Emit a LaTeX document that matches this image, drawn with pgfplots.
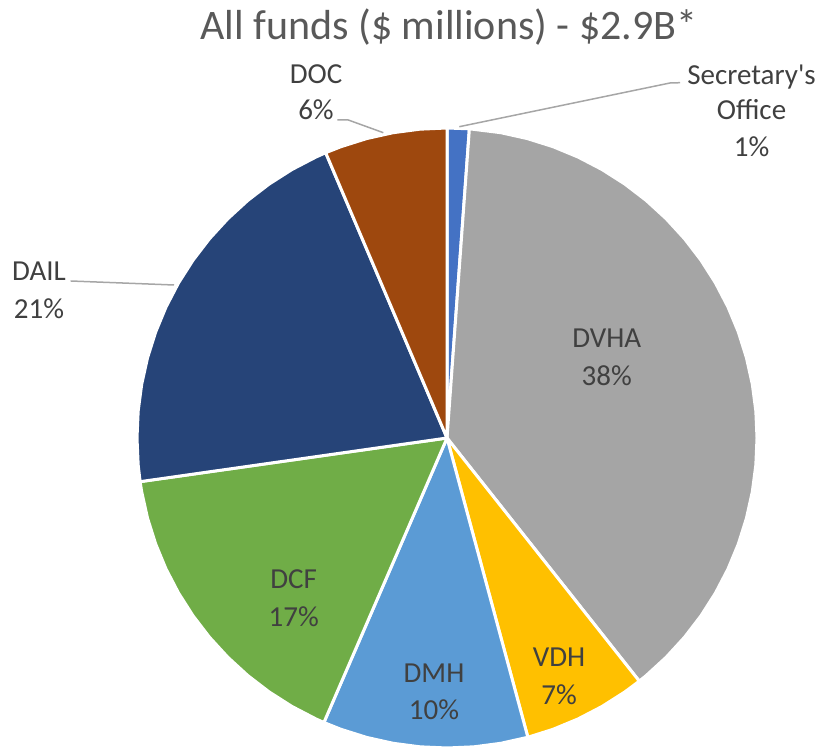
\documentclass[border=0pt]{standalone}
\usepackage{fontspec}
\setmainfont{Carlito}
\usepackage{pgfplots}
\pgfplotsset{compat=1.18}
\usepgfplotslibrary{polar}

\definecolor{cSO}{HTML}{4472C4}
\definecolor{cDVHA}{HTML}{A5A5A5}
\definecolor{cVDH}{HTML}{FFC000}
\definecolor{cDMH}{HTML}{5B9BD5}
\definecolor{cDCF}{HTML}{70AD47}
\definecolor{cDAIL}{HTML}{264478}
\definecolor{cDOC}{HTML}{9E480E}
\definecolor{lblgray}{HTML}{404040}
\definecolor{ttlgray}{HTML}{595959}
\definecolor{leadergray}{HTML}{A6A6A6}

\tikzset{
  lbl/.style={anchor=base, text=lblgray, inner sep=0pt, font=\fontsize{14.5}{17}\selectfont},
}

% shares (%), clockwise from 12 o'clock:
% SO 1.15, DVHA 38.2, VDH 6.45, DMH 10.7, DCF 16.25, DAIL 20.85, DOC 6.4
% wedges are given as (angle, radius) with the slice edges at
% 90, 85.86, -51.66, -74.88, -113.4, -171.9, -246.96, -270 degrees

\begin{document}
\begin{tikzpicture}
\useasboundingbox (0,0) rectangle (411.5pt,374.5pt);
\begin{axis}[
  at={(0,0)}, anchor=south west,
  width=411.5pt, height=374.5pt, scale only axis,
  hide axis, clip=false,
  xmin=-447, xmax=376, ymin=-311, ymax=438,
  slice/.style={draw=white, line width=1.5pt, line join=round, data cs=polar, mark=none},
  leader/.style={draw=leadergray, line width=0.75pt, mark=none},
]
% Secretary's Office
\addplot[slice, fill=cSO] coordinates {(0,0) (90,310) (85.86,310)} -- cycle;
% DVHA
\addplot[slice, fill=cDVHA] coordinates {(0,0) (85.86,310) (80,310) (75,310) (70,310) (65,310) (60,310) (55,310) (50,310) (45,310) (40,310) (35,310) (30,310) (25,310) (20,310) (15,310) (10,310) (5,310) (0,310) (-5,310) (-10,310) (-15,310) (-20,310) (-25,310) (-30,310) (-35,310) (-40,310) (-45,310) (-50,310) (-51.66,310)} -- cycle;
% VDH
\addplot[slice, fill=cVDH] coordinates {(0,0) (-51.66,310) (-55,310) (-60,310) (-65,310) (-70,310) (-74.88,310)} -- cycle;
% DMH
\addplot[slice, fill=cDMH] coordinates {(0,0) (-74.88,310) (-80,310) (-85,310) (-90,310) (-95,310) (-100,310) (-105,310) (-110,310) (-113.4,310)} -- cycle;
% DCF
\addplot[slice, fill=cDCF] coordinates {(0,0) (-113.4,310) (-115,310) (-120,310) (-125,310) (-130,310) (-135,310) (-140,310) (-145,310) (-150,310) (-155,310) (-160,310) (-165,310) (-170,310) (-171.9,310)} -- cycle;
% DAIL
\addplot[slice, fill=cDAIL] coordinates {(0,0) (-171.9,310) (-175,310) (-180,310) (-185,310) (-190,310) (-195,310) (-200,310) (-205,310) (-210,310) (-215,310) (-220,310) (-225,310) (-230,310) (-235,310) (-240,310) (-245,310) (-246.96,310)} -- cycle;
% DOC
\addplot[slice, fill=cDOC] coordinates {(0,0) (-246.96,310) (-250,310) (-255,310) (-260,310) (-265,310) (-270,310)} -- cycle;

% leader lines
\addplot[leader] coordinates {(-109.7,318) (-98.7,318) (-63.7,305.3)};
\addplot[leader] coordinates {(233,355.3) (223,355) (12.3,311.3)};
\addplot[leader] coordinates {(-376.3,157) (-273,153)};

% title
\node[anchor=base, text=ttlgray, inner sep=0pt, font=\fontsize{21}{25}\selectfont] at (axis cs:2,398) {All funds (\$ millions) - \$2.9B*};

% labels
\node[lbl] at (axis cs:-131,354.7) {DOC};
\node[lbl] at (axis cs:-131,318) {6\%};
\node[lbl] at (axis cs:304.5,353.7) {Secretary\textquotesingle s};
\node[lbl] at (axis cs:304.5,318) {Office};
\node[lbl] at (axis cs:304.5,281.3) {1\%};
\node[lbl] at (axis cs:-408,157.3) {DAIL};
\node[lbl] at (axis cs:-408,119.7) {21\%};
\node[lbl] at (axis cs:159.7,90.7) {DVHA};
\node[lbl] at (axis cs:159.7,52) {38\%};
\node[lbl] at (axis cs:112,-228.7) {VDH};
\node[lbl] at (axis cs:112,-266) {7\%};
\node[lbl] at (axis cs:-13,-244.7) {DMH};
\node[lbl] at (axis cs:-13,-281.3) {10\%};
\node[lbl] at (axis cs:-153.3,-150.3) {DCF};
\node[lbl] at (axis cs:-153.3,-188) {17\%};
\end{axis}
\end{tikzpicture}
\end{document}
